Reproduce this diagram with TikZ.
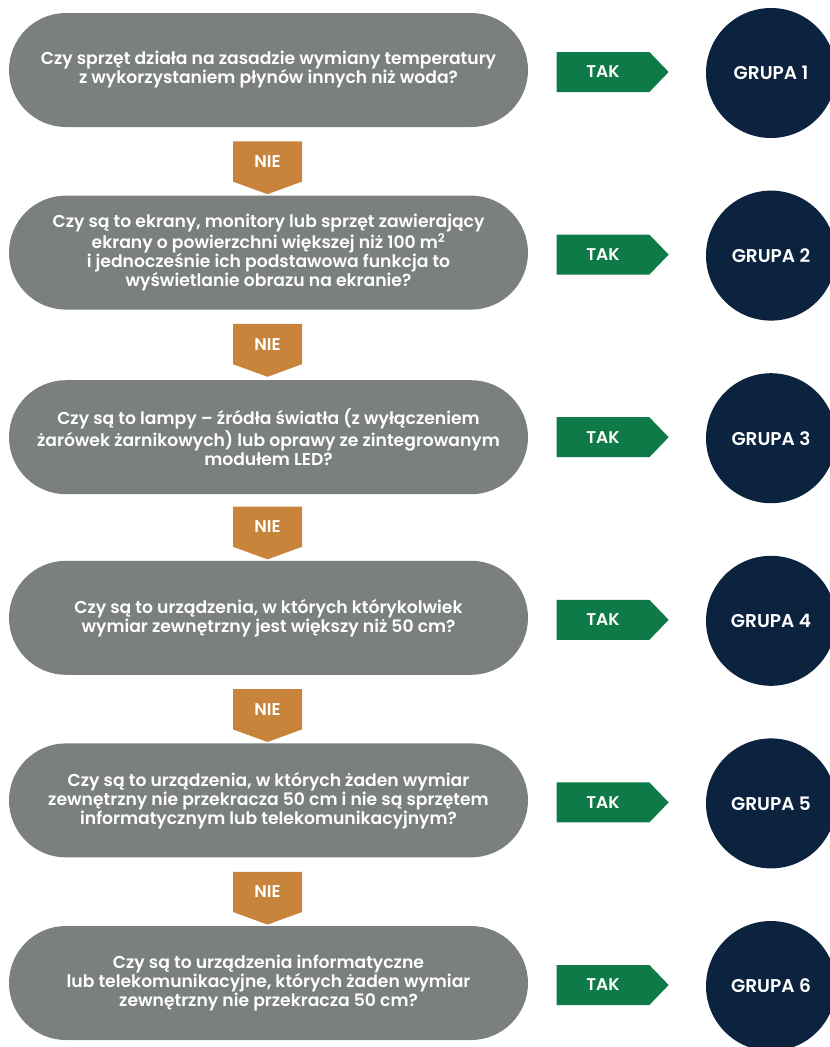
\documentclass[tikz,border=0pt]{standalone}
\usepackage{fontspec}
\setmainfont{Poppins}[BoldFont={Poppins SemiBold}]
\usepackage{tikz}
\usetikzlibrary{shapes.symbols}
\usepackage{xcolor}

\definecolor{boxgray}{HTML}{7C7F80}
\definecolor{takgreen}{HTML}{0E7A47}
\definecolor{nieorange}{HTML}{C8843A}
\definecolor{grupanavy}{HTML}{0C2340}

\begin{document}
\begin{tikzpicture}[
    x=1pt, y=-1pt,
    question/.style={rectangle,rounded corners=57pt,fill=boxgray,text=white,
        minimum width=519pt,minimum height=114pt,align=center,
        font=\fontsize{17.2}{19}\selectfont\bfseries},
    tak/.style={signal,signal to=east,signal pointer angle=92,fill=takgreen,
        text=white,minimum width=112pt,minimum height=40pt,inner sep=0pt,
        font=\fontsize{17}{19}\selectfont\bfseries},
    nie/.style={signal,signal to=south,signal pointer angle=140,fill=nieorange,
        text=white,minimum width=69pt,minimum height=45pt,inner sep=0pt,
        font=\fontsize{17}{19}\selectfont\bfseries},
    grupa/.style={circle,fill=grupanavy,text=white,minimum size=130pt,
        font=\fontsize{18.5}{20}\selectfont\bfseries}
]
\useasboundingbox (0,0) rectangle (830,1047);
% Row 1
\node[question] (q1) at (268.5,70) {Czy sprzęt działa na zasadzie wymiany temperatury\\z wykorzystaniem płynów innych niż woda?};
\node[tak] (tak1) at (603,72) {TAK};
\node[grupa] (g1) at (771,73) {GRUPA 1};
\node[nie] (nie1) at (267.5,161.5) {NIE};
% Row 2
\node[question] (q2) at (268.5,252.6) {Czy są to ekrany, monitory lub sprzęt zawierający\\ekrany o powierzchni większej niż 100 m\textsuperscript{2}\\i jednocześnie ich podstawowa funkcja to\\wyświetlanie obrazu na ekranie?};
\node[tak] (tak2) at (603,254.6) {TAK};
\node[grupa] (g2) at (771,255.6) {GRUPA 2};
\node[nie] (nie2) at (267.5,344.1) {NIE};
% Row 3
\node[question] (q3) at (268.5,437.2) {Czy są to lampy -- źródła światła (z wyłączeniem\\żarówek żarnikowych) lub oprawy ze zintegrowanym\\modułem LED?};
\node[tak] (tak3) at (603,437.2) {TAK};
\node[grupa] (g3) at (771,438.2) {GRUPA 3};
\node[nie] (nie3) at (267.5,526.7) {NIE};
% Row 4
\node[question] (q4) at (268.5,617.8) {Czy są to urządzenia, w których którykolwiek\\wymiar zewnętrzny jest większy niż 50 cm?};
\node[tak] (tak4) at (603,619.8) {TAK};
\node[grupa] (g4) at (771,620.8) {GRUPA 4};
\node[nie] (nie4) at (267.5,709.3) {NIE};
% Row 5
\node[question] (q5) at (268.5,800.4) {Czy są to urządzenia, w których żaden wymiar\\zewnętrzny nie przekracza 50 cm i nie są sprzętem\\informatycznym lub telekomunikacyjnym?};
\node[tak] (tak5) at (603,802.4) {TAK};
\node[grupa] (g5) at (771,803.4) {GRUPA 5};
\node[nie] (nie5) at (267.5,891.9) {NIE};
% Row 6
\node[question] (q6) at (268.5,983) {Czy są to urządzenia informatyczne\\lub telekomunikacyjne, których żaden wymiar\\zewnętrzny nie przekracza 50 cm?};
\node[tak] (tak6) at (603,985) {TAK};
\node[grupa] (g6) at (771,986) {GRUPA 6};
\end{tikzpicture}
\end{document}
